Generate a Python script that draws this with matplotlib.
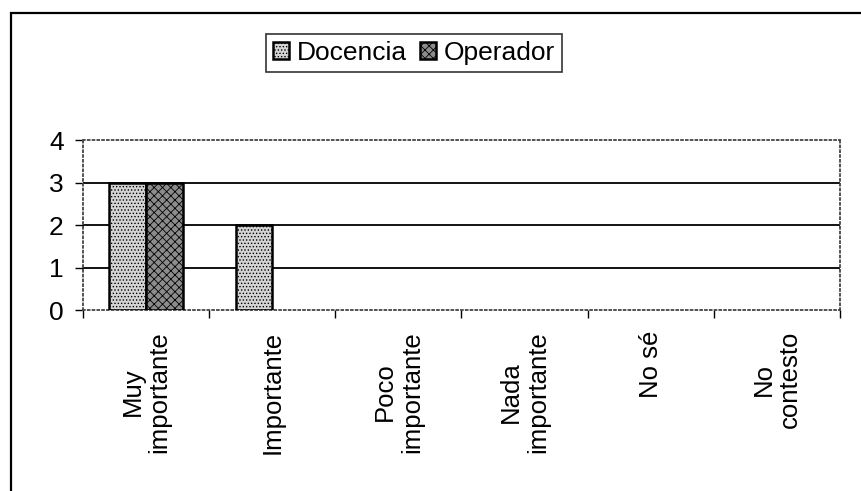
"""bar chart: importancia, docencia vs operador"""
import matplotlib.pyplot as plt
from matplotlib.patches import Rectangle
import numpy as np

plt.rcParams['font.family'] = ['Liberation Sans', 'DejaVu Sans']
plt.rcParams['hatch.linewidth'] = 0.6

categories = ["Muy\nimportante", "Importante", "Poco\nimportante",
              "Nada\nimportante", "No sé", "No\ncontesto"]
docencia = [3, 2, 0, 0, 0, 0]
operador = [3, 0, 0, 0, 0, 0]
y_ticks = [0, 1, 2, 3, 4]

fig = plt.figure(figsize=(8.61, 4.91), dpi=100)
ax = fig.add_axes([83 / 861, 1 - 310 / 491, 757 / 861, 170 / 491])

# outer chart frame (only left/top edges show in the scan)
fig.patches.append(Rectangle((11 / 861, -0.05), 1.2, 1 - 13 / 491 + 0.05,
                             transform=fig.transFigure, fill=False,
                             edgecolor='black', linewidth=1.6))

x = np.arange(len(categories))
w = 0.29
doc = np.array(docencia)
ope = np.array(operador)
# zero-height bars would leave a black line on the dotted baseline
ax.bar((x - w / 2)[doc > 0], doc[doc > 0], w, facecolor='#d4d4d4',
       edgecolor='black', linewidth=1.8, hatch='.....', label='Docencia',
       zorder=3)
ax.bar((x + w / 2)[ope > 0], ope[ope > 0], w, facecolor='#8c8c8c',
       edgecolor='black', linewidth=1.8, hatch='xxxx', label='Operador',
       zorder=3)

ax.set_xlim(-0.5, len(categories) - 0.5)
ax.set_ylim(0, 4)
ax.set_yticks(y_ticks)
ax.tick_params(axis='y', direction='out', length=6, width=1, pad=8,
               labelsize=19)
ax.set_xticks(x)
ax.set_xticklabels(categories, rotation=90, fontsize=18.5, va='top',
                   ha='center', linespacing=1.15)
ax.tick_params(axis='x', which='major', length=0, pad=15)
ax.set_xticks(np.arange(-0.5, len(categories)), minor=True)
ax.tick_params(axis='x', which='minor', direction='out', length=6, width=1)

for yv in [1, 2, 3]:
    ax.axhline(yv, color='black', linewidth=1.3, zorder=1)
for s in ax.spines.values():
    s.set_linestyle(':')
    s.set_color('#444444')
    s.set_linewidth(1.3)

leg = fig.legend(loc='center', bbox_to_anchor=(414 / 861, 1 - 53 / 491),
                 ncol=2, fontsize=19, frameon=True, fancybox=False,
                 edgecolor='black', handlelength=0.6, handleheight=0.6,
                 handletextpad=0.3, columnspacing=0.5, borderpad=0.25,
                 borderaxespad=0)
leg.get_frame().set_linewidth(1.2)

fig.savefig('out.png', dpi=100)
